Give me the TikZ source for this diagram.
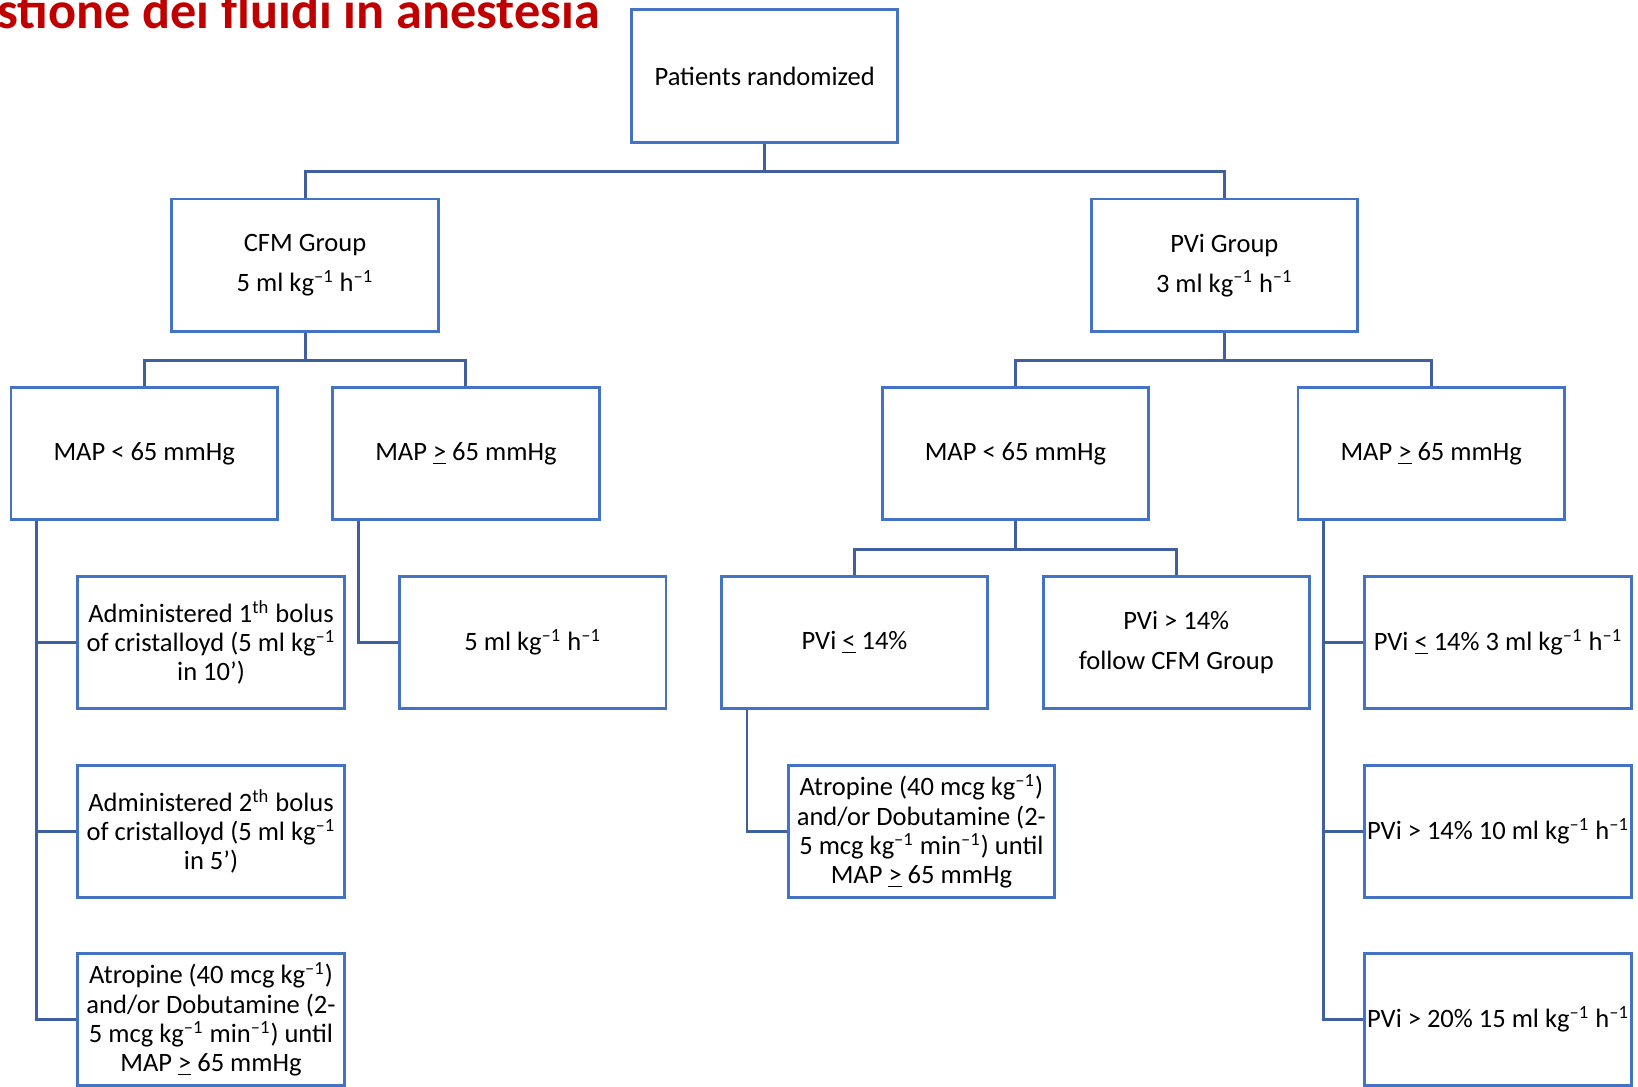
\documentclass[tikz,border=0pt]{standalone}
\usepackage{fontspec}
\setmainfont{Carlito}
\definecolor{boxblue}{HTML}{4472C4}
\definecolor{linkblue}{HTML}{3F5F9F}
\definecolor{titlered}{HTML}{C00000}
\newcommand\negone{\textsuperscript{–1}}
\newcommand\ugeq{\underline{>}}
\newcommand\uleq{\underline{<}}
\begin{document}
\begin{tikzpicture}[x=0.5pt,y=-0.5pt,
  box/.style={draw=boxblue, line width=1.4pt, minimum width=127.5pt, minimum height=63.5pt,
    align=center, font=\fontsize{12.7}{14}\selectfont, inner xsep=0.8pt, inner ysep=2pt},
  link/.style={draw=linkblue, line width=1.4pt}]
\useasboundingbox (0,0) rectangle (1568,1040);
\clip (0,0) rectangle (1568,1040);
\fill[white] (0,0) rectangle (1568,1040);
\node[anchor=base west, inner sep=0, text=titlered, font=\fontsize{25}{30}\selectfont\bfseries] (title) at (-3,27) {stione dei fluidi in anestesia};

\node[box] (root) at (732,73) {Patients randomized};
\node[box] (cfm) at (292,254) {CFM Group\\[5pt]5 ml kg\negone{} h\negone};
\node[box] (pvi) at (1172,254) {PVi Group\\[5pt]3 ml kg\negone{} h\negone};
\node[box] (cl) at (138,434) {MAP < 65 mmHg};
\node[box] (cg) at (446,434) {MAP \ugeq{} 65 mmHg};
\node[box] (pl) at (972,434) {MAP < 65 mmHg};
\node[box] (pg) at (1370,434) {MAP \ugeq{} 65 mmHg};
\node[box] (b1) at (202,615) {Administered 1\textsuperscript{th} bolus\\of cristalloyd (5 ml kg\negone\\in 10’)};
\node[box] (b2) at (202,796) {Administered 2\textsuperscript{th} bolus\\of cristalloyd (5 ml kg\negone\\in 5’)};
\node[box] (a1) at (202,976) {Atropine (40 mcg kg\negone)\\and/or Dobutamine (2-\\5 mcg kg\negone{} min\negone) until\\MAP \ugeq{} 65 mmHg};
\node[box] (f5) at (510,615) {5 ml kg\negone{} h\negone};
\node[box] (p14) at (818,615) {PVi \uleq{} 14\%};
\node[box] (p14g) at (1126,615) {PVi > 14\%\\[5pt]follow CFM Group};
\node[box] (a2) at (882,796) {Atropine (40 mcg kg\negone)\\and/or Dobutamine (2-\\5 mcg kg\negone{} min\negone) until\\MAP \ugeq{} 65 mmHg};
\node[box] (r1) at (1434,615) {PVi \uleq{} 14\% 3 ml kg\negone{} h\negone};
\node[box] (r2) at (1434,796) {PVi > 14\% 10 ml kg\negone{} h\negone};
\node[box] (r3) at (1434,976) {PVi > 20\% 15 ml kg\negone{} h\negone};

% root split
\draw[link] (root.south) -- ++(0,26) coordinate (rj);
\draw[link] (cfm.north) |- (rj) -| (pvi.north);
% CFM split
\draw[link] (cfm.south) -- ++(0,26) coordinate (cj);
\draw[link] (cl.north) |- (cj) -| (cg.north);
% PVi split
\draw[link] (pvi.south) -- ++(0,26) coordinate (pj);
\draw[link] (pl.north) |- (pj) -| (pg.north);
% MAP<65 PVi split
\draw[link] (pl.south) -- ++(0,27) coordinate (qj);
\draw[link] (p14.north) |- (qj) -| (p14g.north);
% left spine
\coordinate (ls) at ([xshift=13pt]cl.south west);
\draw[link] (ls) |- (a1.west);
\draw[link] (ls |- b1.west) -- (b1.west);
\draw[link] (ls |- b2.west) -- (b2.west);
% MAP>=65 CFM
\coordinate (ms) at ([xshift=13pt]cg.south west);
\draw[link] (ms) |- (f5.west);
% PVi <= 14
\coordinate (vs) at ([xshift=13pt]p14.south west);
\draw[link] (vs) |- (a2.west);
% right spine
\coordinate (rs) at ([xshift=13pt]pg.south west);
\draw[link] (rs) |- (r3.west);
\draw[link] (rs |- r1.west) -- (r1.west);
\draw[link] (rs |- r2.west) -- (r2.west);
\end{tikzpicture}
\end{document}
